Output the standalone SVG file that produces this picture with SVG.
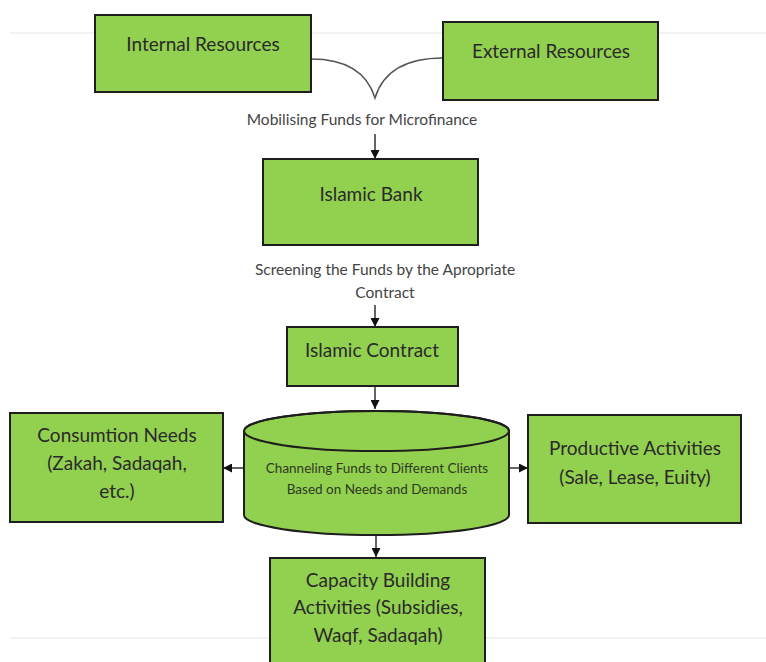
<svg xmlns="http://www.w3.org/2000/svg" width="766" height="662" viewBox="0 0 766 662">
<style>
.box{fill:#92d050;stroke:#1e1e1e;stroke-width:2}
.t{font-family:Lato,"Open Sans",sans-serif;font-size:19px;fill:#2a2a2a;text-anchor:middle}
.lbl{font-family:Lato,"Open Sans",sans-serif;font-size:15.5px;fill:#444;text-anchor:middle}
.ct{font-family:Lato,"Open Sans",sans-serif;font-size:13.5px;fill:#2e3a22;text-anchor:middle}
.c{fill:none;stroke:#111;stroke-width:1.3}
.grid{stroke:#e6e6e6;stroke-width:1}
</style>
<defs>
<marker id="ah" viewBox="0 0 10 10" refX="10" refY="5" markerWidth="9" markerHeight="9" markerUnits="userSpaceOnUse" orient="auto">
<path d="M0,0 L10,5 L0,10 z" fill="#111"/>
</marker>
</defs>
<rect width="766" height="662" fill="#fff"/>
<line class="grid" x1="10" y1="33" x2="766" y2="33"/>
<line class="grid" x1="10" y1="638" x2="766" y2="638"/>

<g id="connectors">
<path d="M311,59 C350,59 368,75 375,98 C382,75 400,58 443,58" fill="none" stroke="#555" stroke-width="1.5"/>
<text class="lbl" x="362" y="125">Mobilising Funds for Microfinance</text>
<line class="c" x1="375" y1="134" x2="375" y2="159" marker-end="url(#ah)"/>
<text class="lbl" x="385" y="275">Screening the Funds by the Apropriate</text>
<text class="lbl" x="385" y="298">Contract</text>
<line class="c" x1="375" y1="305" x2="375" y2="327" marker-end="url(#ah)"/>
<line class="c" x1="375" y1="386" x2="375" y2="409" marker-end="url(#ah)"/>
<line class="c" x1="244" y1="468" x2="223" y2="468" marker-end="url(#ah)"/>
<line class="c" x1="509" y1="468" x2="528" y2="468" marker-end="url(#ah)"/>
<line class="c" x1="376" y1="535" x2="376" y2="557" marker-end="url(#ah)"/>
</g>

<g id="internal">
<rect class="box" x="95" y="15" width="216" height="77"/>
<text class="t" x="203" y="51">Internal Resources</text>
</g>
<g id="external">
<rect class="box" x="443" y="22" width="215" height="78"/>
<text class="t" x="551" y="58">External Resources</text>
</g>
<g id="bank">
<rect class="box" x="263" y="159" width="215" height="86"/>
<text class="t" x="371" y="201">Islamic Bank</text>
</g>
<g id="contract">
<rect class="box" x="287" y="327" width="171" height="59"/>
<text class="t" x="372" y="357">Islamic Contract</text>
</g>
<g id="channel">
<path class="box" d="M244,431 L244,515 A132.5,20 0 0 0 509,515 L509,431 A132.5,20 0 0 0 244,431 Z"/>
<ellipse cx="376.5" cy="431" rx="132.5" ry="20" fill="none" stroke="#1e1e1e" stroke-width="2"/>
<text class="ct" x="377" y="473">Channeling Funds to Different Clients</text>
<text class="ct" x="377" y="494">Based on Needs and Demands</text>
</g>
<g id="consumption">
<rect class="box" x="10" y="413" width="213" height="109"/>
<text class="t" x="117" y="442">Consumtion Needs</text>
<text class="t" x="117" y="470">(Zakah, Sadaqah,</text>
<text class="t" x="117" y="498">etc.)</text>
</g>
<g id="productive">
<rect class="box" x="528" y="415" width="213" height="108"/>
<text class="t" x="635" y="455">Productive Activities</text>
<text class="t" x="635" y="484">(Sale, Lease, Euity)</text>
</g>
<g id="capacity">
<rect class="box" x="270" y="558" width="215" height="110"/>
<text class="t" x="378" y="587">Capacity Building</text>
<text class="t" x="378" y="614">Activities (Subsidies,</text>
<text class="t" x="378" y="642">Waqf, Sadaqah)</text>
</g>
</svg>
